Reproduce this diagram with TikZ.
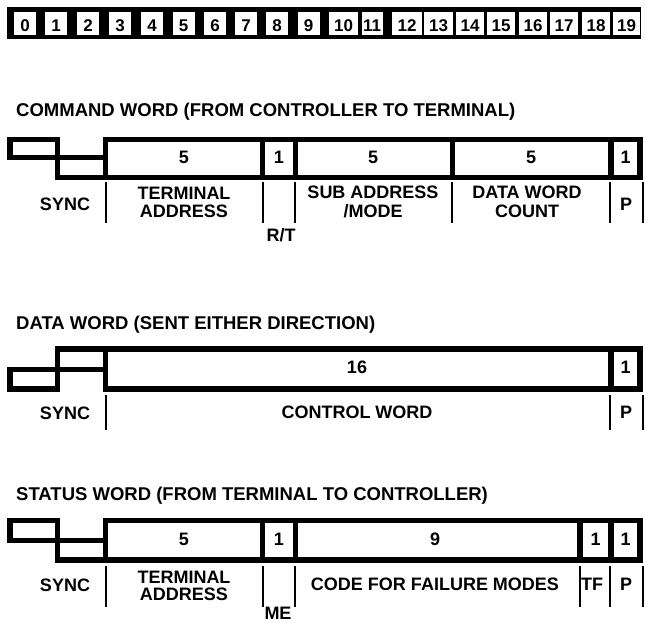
\documentclass[tikz,border=0pt]{standalone}
\usepackage{fontspec}
\setmainfont{Liberation Sans}
\newcommand{\ttlfont}{\fontsize{18.5}{18.5}\selectfont\bfseries}
\newcommand{\lblfont}{\fontsize{18}{18}\selectfont\bfseries}
\newcommand{\digfont}{\fontsize{17}{17}\selectfont\bfseries}
\begin{document}
\begin{tikzpicture}[x=1pt,y=-1pt,
  frameline/.style={line width=5.5pt, line join=miter, line cap=rect},
  sepline/.style={line width=2pt},
  lbl/.style={anchor=base, inner sep=0pt, font=\lblfont},
  ttl/.style={anchor=base west, inner sep=0pt, font=\ttlfont},
  bitbox/.style={fill=white, inner sep=0pt, minimum height=23pt, text height=19.8pt, text depth=3.2pt, font=\digfont},
]
\useasboundingbox (0,0) rectangle (645,623);

% ---------- bit numbers strip ----------
\fill[black] (7,7) rectangle (641,39);
\foreach \i/\c/\w in {0/25/22,1/56/22,2/88/22,3/120/22,4/152/22,5/183.5/22,6/215/22,7/246/22,8/277/22,9/308.5/22,
  10/343.5/29,11/372/21,12/407/30,13/438.5/29,14/470/28,15/501/28,16/533/28,17/564/28,18/596/28,19/626.5/27}
  \node[bitbox, minimum width=\w pt] (b\i) at (\c,23.5) {\i};

% ---------- COMMAND WORD ----------
\node[ttl] (cwtitle) at (16,117) {COMMAND WORD (FROM CONTROLLER TO TERMINAL)};
\draw[frameline] (57.5,177.5) -- (57.5,139.5) -- (10,139.5) -- (10,157.5) -- (105.5,157.5);
\draw[frameline] (105.5,139.5) rectangle (640,177.5);
\draw[frameline] (57.5,177.5) -- (105.5,177.5);
\foreach \x in {262.5,295.5,452.5,611}
  \draw[frameline] (\x,139.5) -- (\x,177.5);
\node[lbl] (cw1) at (184,163.3) {5};
\node[lbl] (cw2) at (279,163.3) {1};
\node[lbl] (cw3) at (373,163.3) {5};
\node[lbl] (cw4) at (531,163.3) {5};
\node[lbl] (cw5) at (625.5,163.3) {1};
\foreach \x in {106,263,295,452,610,642.5}
  \draw[sepline] (\x,182) -- (\x,223);
\node[lbl] (cwsync) at (65,210) {SYNC};
\node[lbl] (cwta1) at (184,199.3) {TERMINAL};
\node[lbl] (cwta2) at (184,217.3) {ADDRESS};
\node[lbl] (cwrt) at (281,241.7) {R/T};
\node[lbl] (cwsa1) at (373,198.3) {SUB ADDRESS};
\node[lbl] (cwsa2) at (373,217.3) {/MODE};
\node[lbl] (cwdc1) at (527,198.3) {DATA WORD};
\node[lbl] (cwdc2) at (527,217.3) {COUNT};
\node[lbl] (cwp) at (626,210) {P};

% ---------- DATA WORD ----------
\node[ttl] (dwtitle) at (16,329.5) {DATA WORD (SENT EITHER DIRECTION)};
\draw[frameline] (105.5,369.5) -- (10,369.5) -- (10,389) -- (57.5,389) -- (57.5,349) -- (640,349) -- (640,389) -- (105.5,389) -- (105.5,349);
\draw[frameline] (611,349) -- (611,389);
\node[lbl] (dw1) at (357,373) {16};
\node[lbl] (dw2) at (625.5,373) {1};
\foreach \x in {106,610,642.5}
  \draw[sepline] (\x,395) -- (\x,430);
\node[lbl] (dwsync) at (65,419) {SYNC};
\node[lbl] (dwcw) at (357,418.5) {CONTROL WORD};
\node[lbl] (dwp) at (626,418.5) {P};

% ---------- STATUS WORD ----------
\node[ttl] (swtitle) at (16,500) {STATUS WORD (FROM TERMINAL TO CONTROLLER)};
\draw[frameline] (57.5,560) -- (57.5,520.5) -- (10,520.5) -- (10,540.5) -- (105.5,540.5);
\draw[frameline] (105.5,520.5) rectangle (640,560);
\draw[frameline] (57.5,560) -- (105.5,560);
\foreach \x in {262.5,295.5,580,611}
  \draw[frameline] (\x,520.5) -- (\x,560);
\node[lbl] (sw1) at (184,545) {5};
\node[lbl] (sw2) at (279,545) {1};
\node[lbl] (sw3) at (435,545) {9};
\node[lbl] (sw4) at (595.5,545) {1};
\node[lbl] (sw5) at (625.5,545) {1};
\foreach \x in {106,263,295,580,610,642.5}
  \draw[sepline] (\x,566) -- (\x,607);
\node[lbl] (swsync) at (65,591.7) {SYNC};
\node[lbl] (swta1) at (184,583.3) {TERMINAL};
\node[lbl] (swta2) at (184,600) {ADDRESS};
\node[lbl] (swme) at (278,619) {ME};
\node[lbl] (swcf) at (435,590.5) {CODE FOR FAILURE MODES};
\node[lbl] (swtf) at (592,590.5) {TF};
\node[lbl] (swp) at (626,590.5) {P};
\end{tikzpicture}
\end{document}
